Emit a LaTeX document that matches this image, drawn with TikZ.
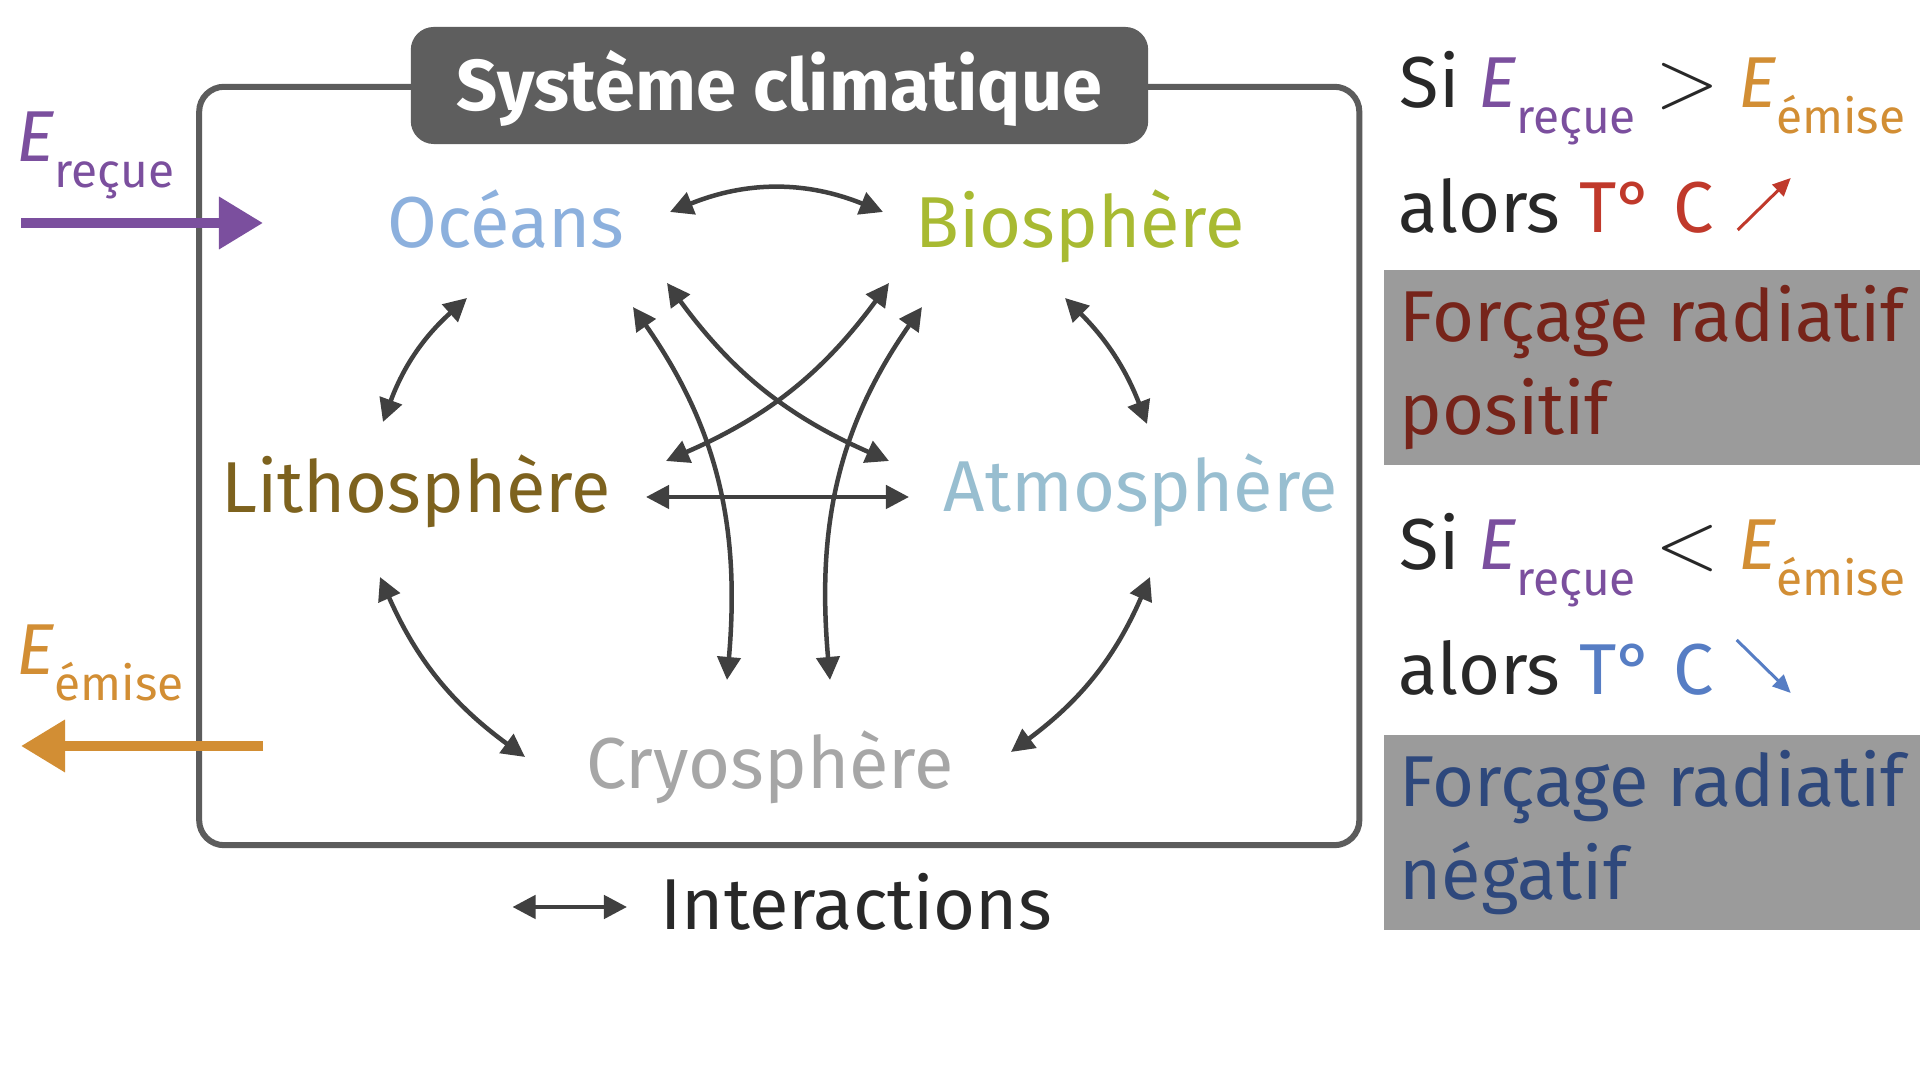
\documentclass[tikz,border=0pt]{standalone}
\usepackage{fontspec}
\setmainfont{Fira Sans}
\usetikzlibrary{arrows.meta, positioning, calc}
\definecolor{framegray}{RGB}{92,92,92}
\definecolor{titlegray}{RGB}{94,94,94}
\definecolor{arrowgray}{RGB}{64,64,64}
\definecolor{textdark}{RGB}{40,40,40}
\definecolor{oceanblue}{RGB}{140,176,221}
\definecolor{biogreen}{RGB}{168,186,50}
\definecolor{lithobrown}{RGB}{125,98,30}
\definecolor{atmoblue}{RGB}{152,190,208}
\definecolor{cryogray}{RGB}{166,166,166}
\definecolor{ecolin}{RGB}{123,79,158}
\definecolor{ecolout}{RGB}{210,142,52}
\definecolor{tempred}{RGB}{192,57,43}
\definecolor{tempblue}{RGB}{86,125,196}
\definecolor{forcered}{RGB}{118,36,26}
\definecolor{forceblue}{RGB}{46,72,124}
\definecolor{boxgray}{RGB}{155,155,155}
\newcommand{\lowsub}[1]{\raisebox{-0.35em}{\fontsize{13.6pt}{16pt}\selectfont #1}}
\newcommand{\Erecue}{\textcolor{ecolin}{\textit{E}\lowsub{reçue}}}
\newcommand{\Eemise}{\textcolor{ecolout}{\textit{E}\lowsub{émise}}}

\begin{document}
\begin{tikzpicture}[
        x=0.01cm, y=0.01cm,
        every node/.style={inner sep=0pt, text=textdark, font=\fontsize{20.5pt}{26.5pt}\selectfont},
        sphere/.style={anchor=base},
        inter/.style={{Triangle[length=2.3mm,width=2.3mm]}-{Triangle[length=2.3mm,width=2.3mm]}, line width=0.45mm, draw=arrowgray},
        flux/.style={-{Triangle[length=4.4mm,width=5mm]}, line width=1mm},
        trend/.style={-{Triangle[length=1.8mm,width=1.6mm]}, line width=0.3mm},
        forcebox/.style={fill=boxgray, minimum width=5.37cm, minimum height=1.95cm, align=left, anchor=north west}
    ]
        \fill[white] (0,0) rectangle (1920,-1080);
        \useasboundingbox (0,0) rectangle (1920,-1080);

        % climate system frame
        \node[draw=framegray, line width=0.6mm, rounded corners=2.5mm, minimum width=11.595cm, minimum height=7.58cm] (climat) at (779.25,-466) {};
        \node[fill=titlegray, text=white, rounded corners=2.3mm, minimum width=7.37cm, minimum height=1.17cm, text height=0.5cm, text depth=0cm, font=\fontsize{20.5pt}{24pt}\selectfont\bfseries] (titre) at (779.5,-85.5) {Système climatique};

        \node[sphere, text=oceanblue] (oceans) at (506,-248) {Océans};
        \node[sphere, text=biogreen] (bio) at (1080,-248) {Biosphère};
        \node[sphere, text=lithobrown] (litho) at (416,-513) {Lithosphère};
        \node[sphere, text=atmoblue] (atmo) at (1141,-512) {Atmosphère};
        \node[sphere, text=cryogray] (cryo) at (770,-789) {Cryosphère};

        % interactions
        \draw[inter] ($(oceans.base)+(164,36)$) to[bend left=22] ($(bio.base)+(-197,36)$);
        \draw[inter] ($(oceans.base)+(-39,-50)$) to[bend right=14] ($(litho.base)+(-33,91)$);
        \draw[inter] ($(bio.base)+(-15,-50)$) to[bend left=12] ($(atmo.base)+(6,88)$);
        \draw[inter] ($(litho.base)+(-36,-64)$) to[bend right=15] ($(cryo.base)+(-245,32)$);
        \draw[inter] ($(atmo.base)+(9,-65)$) to[bend left=15] ($(cryo.base)+(241,37)$);
        \draw[inter] ($(litho.base)+(230,16)$) -- ($(atmo.base)+(-232,15)$);
        \draw[inter] ($(oceans.base)+(161,-35)$) to[bend right=15] ($(atmo.base)+(-252,51)$);
        \draw[inter] ($(bio.base)+(-191,-35)$) to[bend left=15] ($(litho.base)+(250,52)$);
        \draw[inter] ($(oceans.base)+(127,-59)$) to[out=-55, in=85] ($(cryo.base)+(-43,109)$);
        \draw[inter] ($(bio.base)+(-158,-59)$) to[out=-125, in=95] ($(cryo.base)+(60,109)$);

        % energy in and out
        \node[anchor=base west] (ein) at (16,-162) {\Erecue};
        \coordinate (einA) at (21,-223);
        \coordinate (einB) at (263,-223);
        \draw[flux, color=ecolin] (einA) -- (einB);
        \node[anchor=base west] (eout) at (16,-675) {\Eemise};
        \coordinate (eoutA) at (263,-746);
        \coordinate (eoutB) at (21,-746);
        \draw[flux, color=ecolout] (eoutA) -- (eoutB);

        % positive forcing
        \node[anchor=base west] (sigt) at (1399,-108) {Si \Erecue{} \scalebox{1.15}{$>$} \Eemise};
        \node[anchor=base west] (alorsup) at (1398,-233) {alors \textcolor{tempred}{T° C}};
        \coordinate (upA) at ($(alorsup.base east)+(23,3)$);
        \coordinate (upB) at ($(alorsup.base east)+(76,55)$);
        \draw[trend, color=tempred] (upA) -- (upB);
        \node[forcebox, text=forcered] (posbox) at (1383,-269) {Forçage radiatif\\positif};

        % negative forcing
        \node[anchor=base west] (silt) at (1399,-570) {Si \Erecue{} \scalebox{1.15}{$<$} \Eemise};
        \node[anchor=base west] (alorsdown) at (1398,-695) {alors \textcolor{tempblue}{T° C}};
        \coordinate (downA) at ($(alorsdown.base east)+(22,55)$);
        \coordinate (downB) at ($(alorsdown.base east)+(76,2)$);
        \draw[trend, color=tempblue] (downA) -- (downB);
        \node[forcebox, text=forceblue] (negbox) at (1383,-734) {Forçage radiatif\\négatif};

        % legend
        \node[anchor=base west] (legende) at (660,-930) {Interactions};
        \draw[inter] ($(legende.base west)+(-147.5,23)$) -- ($(legende.base west)+(-33,23)$);
    \end{tikzpicture}
\end{document}
